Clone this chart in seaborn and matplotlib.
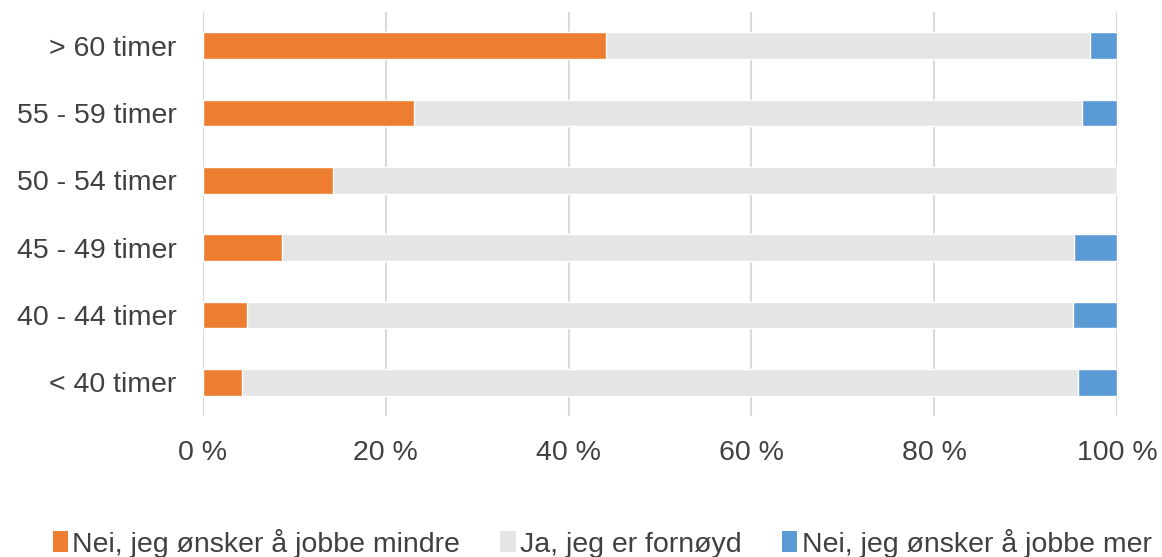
import matplotlib

matplotlib.use("Agg")
import matplotlib.pyplot as plt  # noqa: E402
import pandas as pd  # noqa: E402
import seaborn as sns  # noqa: E402
from matplotlib.patches import Patch  # noqa: E402

categories = ["> 60 timer", "55 - 59 timer", "50 - 54 timer", "45 - 49 timer", "40 - 44 timer", "< 40 timer"]
mindre = [44.1, 23.1, 14.2, 8.6, 4.8, 4.3]
fornoyd = [53.0, 73.1, 85.8, 86.7, 90.4, 91.4]
mer = [2.9, 3.8, 0.0, 4.7, 4.8, 4.3]
series_names = ["Nei, jeg ønsker å jobbe mindre", "Ja, jeg er fornøyd", "Nei, jeg ønsker å jobbe mer"]
colors = ["#ED7D31", "#E5E5E5", "#5B9BD5"]
xticks = [0, 20, 40, 60, 80, 100]

sns.set_style("white")
plt.rcParams["font.family"] = ["Liberation Sans", "DejaVu Sans"]
text_color = "#404040"

df = pd.DataFrame({"cat": categories, "mindre": mindre, "fornoyd": fornoyd, "mer": mer})
df["c1"] = df["mindre"]
df["c2"] = df["mindre"] + df["fornoyd"]
df["c3"] = df["c2"] + df["mer"]

fig = plt.figure(figsize=(11.62, 5.57), dpi=100)
ax = fig.add_axes([203 / 1162, 1 - 416 / 557, (1117 - 203) / 1162, (416 - 12) / 557])

# layered cumulative bars give the stacked look
for col, c in zip(["c3", "c2", "c1"], colors[::-1]):
    sns.barplot(data=df, x=col, y="cat", orient="h", color=c, width=0.4,
                saturation=1, ax=ax, zorder=3)

ax.set_xlim(0, 100)
ax.set_ylim(5.5, -0.5)
ax.set_xticks(xticks)
ax.set_xticklabels([f"{t} %" for t in xticks])
ax.set_xlabel("")
ax.set_ylabel("")
ax.grid(axis="x", color="#D9D9D9", linewidth=1.5, zorder=0)
ax.set_axisbelow(True)
sns.despine(ax=ax, left=True, bottom=True)
ax.tick_params(axis="y", length=0, pad=19, labelsize=20.5, labelcolor=text_color)
ax.tick_params(axis="x", length=0, pad=17, labelsize=20.5, labelcolor=text_color)

handles = [Patch(facecolor=c, edgecolor="none") for c in colors]
fig.legend(handles, series_names, loc="center", bbox_to_anchor=(602 / 1162, 1 - 543 / 557),
           ncol=3, frameon=False, fontsize=20.5, handlelength=0.55, handleheight=0.75,
           handletextpad=0.15, columnspacing=1.4, labelcolor=text_color)

fig.savefig("out.png", dpi=100)
plt.close(fig)
